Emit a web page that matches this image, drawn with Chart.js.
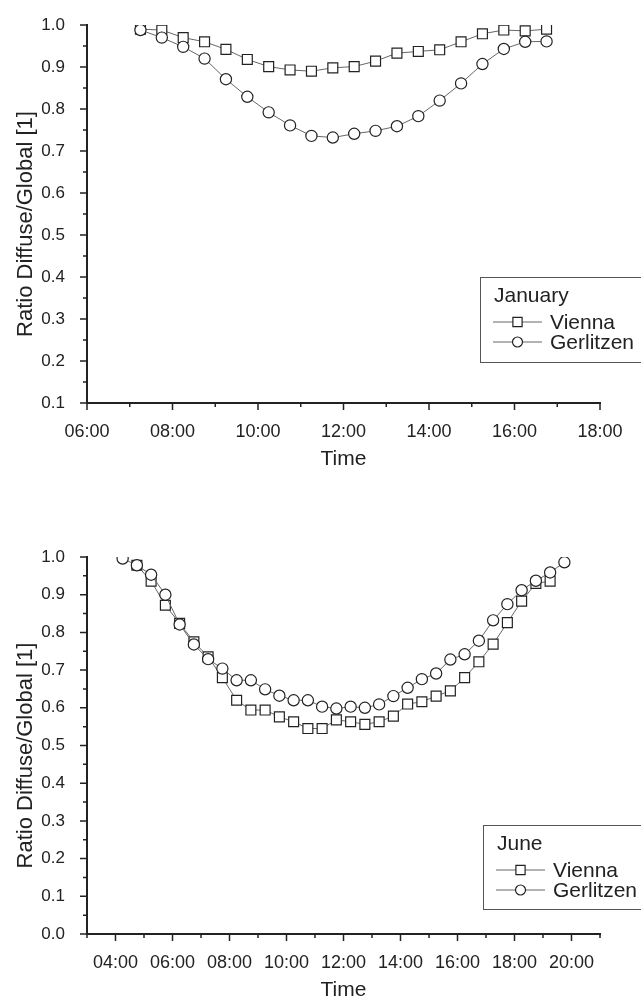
<!DOCTYPE html>
<html>
<head>
<meta charset="utf-8">
<script src="https://cdn.jsdelivr.net/npm/chart.js@4.4.1/dist/chart.umd.min.js"></script>
<style>
  html, body { margin: 0; padding: 0; background: #fff; }
  #page { position: relative; width: 641px; height: 998px; overflow: hidden; }
  .panel { position: absolute; left: 0; width: 641px; }
  #janPanel { top: 0; height: 490px; }
  #junePanel { top: 490px; height: 508px; }
</style>
</head>
<body>
<div id="page">
  <div class="panel" id="janPanel"><canvas id="janChart"></canvas></div>
  <div class="panel" id="junePanel"><canvas id="juneChart"></canvas></div>
</div>
<script>
// ── Data: half-hourly diffuse/global ratio ───────────────────────
const janTimes = ['07:15','07:45','08:15','08:45','09:15','09:45','10:15','10:45','11:15','11:45',
                  '12:15','12:45','13:15','13:45','14:15','14:45','15:15','15:45','16:15','16:45'];
const janVienna    = [0.990,0.988,0.970,0.960,0.942,0.918,0.901,0.893,0.890,0.898,
                      0.901,0.914,0.933,0.937,0.941,0.960,0.979,0.988,0.986,0.990];
const janGerlitzen = [0.988,0.970,0.948,0.920,0.871,0.829,0.792,0.761,0.736,0.732,
                      0.741,0.748,0.759,0.783,0.820,0.861,0.907,0.943,0.960,0.961];
const janHourTicks = [6, 8, 10, 12, 14, 16, 18];

const juneTimes = ['04:15','04:45','05:15','05:45','06:15','06:45','07:15','07:45','08:15','08:45',
                   '09:15','09:45','10:15','10:45','11:15','11:45','12:15','12:45','13:15','13:45',
                   '14:15','14:45','15:15','15:45','16:15','16:45','17:15','17:45','18:15','18:45',
                   '19:15','19:45'];
const juneVienna    = [null, 0.978,0.936,0.872,0.824,0.775,0.735,0.680,0.620,0.594,
                       0.594,0.576,0.563,0.545,0.545,0.568,0.563,0.556,0.563,0.578,
                       0.610,0.616,0.631,0.645,0.680,0.722,0.769,0.826,0.883,0.930,
                       0.936,null];
const juneGerlitzen = [0.996,0.978,0.953,0.900,0.821,0.768,0.729,0.704,0.673,0.673,
                       0.649,0.632,0.620,0.620,0.603,0.598,0.603,0.600,0.609,0.631,
                       0.653,0.676,0.691,0.728,0.742,0.778,0.832,0.875,0.912,0.937,
                       0.959,0.986];
const juneHourTicks = [4, 6, 8, 10, 12, 14, 16, 18, 20];

const FONT = "'Liberation Sans', Arial, sans-serif";
const INK = '#222';

function toHours(t) { const [h, m] = t.split(':').map(Number); return h + m / 60; }
function pairs(times, values) { return times.map((t, i) => ({ x: toHours(t), y: values[i] })); }
function hhmm(h) { return String(h).padStart(2, '0') + ':00'; }

function series(label, data, style, order) {
  return {
    label, data, order,
    borderColor: '#666',
    borderWidth: 1,
    pointStyle: style,
    pointRadius: style === 'rect' ? 7 : 5.6,
    pointBackgroundColor: '#fff',
    pointBorderColor: INK,
    pointBorderWidth: 1.2,
    tension: 0
  };
}

// minor/major tick marks + axis titles
const axisDecor = {
  id: 'axisDecor',
  afterDraw(chart, args, o) {
    const { ctx, chartArea: a, scales: { x, y } } = chart;
    ctx.save();
    ctx.strokeStyle = INK;
    ctx.lineWidth = 1.5;
    ctx.beginPath();
    for (let h = x.min; h <= x.max; h += 1) {
      const px = x.getPixelForValue(h);
      const len = o.hourTicks.includes(h) ? 7 : 4;
      ctx.moveTo(px, a.bottom);
      ctx.lineTo(px, a.bottom + len);
    }
    for (let k = Math.round(y.min * 20); k <= Math.round(y.max * 20); k++) {
      const py = y.getPixelForValue(k / 20);
      const len = k % 2 === 0 ? 7 : 4;
      ctx.moveTo(a.left, py);
      ctx.lineTo(a.left - len, py);
    }
    ctx.stroke();

    ctx.fillStyle = INK;
    ctx.textAlign = 'center';
    ctx.textBaseline = 'alphabetic';
    ctx.font = '21px ' + FONT;
    ctx.fillText('Time', (a.left + a.right) / 2, a.bottom + 62);
    ctx.font = '22px ' + FONT;
    ctx.translate(32, (a.top + a.bottom) / 2 + 10);
    ctx.rotate(-Math.PI / 2);
    ctx.fillText('Ratio Diffuse/Global [1]', 0, 0);
    ctx.restore();
  }
};

// boxed legend with title, line + marker samples
const boxLegend = {
  id: 'boxLegend',
  afterDraw(chart, args, o) {
    const ctx = chart.ctx;
    ctx.save();
    ctx.fillStyle = '#fff';
    ctx.fillRect(o.left, o.top, o.width, o.height);
    ctx.strokeStyle = '#555';
    ctx.lineWidth = 1;
    ctx.strokeRect(o.left + 0.5, o.top + 0.5, o.width, o.height);

    ctx.fillStyle = INK;
    ctx.font = '21px ' + FONT;
    ctx.textAlign = 'left';
    ctx.textBaseline = 'alphabetic';
    ctx.fillText(o.title, o.left + 14, o.top + 25);

    chart.data.datasets.forEach((ds, i) => {
      const cy = o.top + 45 + i * 20;
      const x0 = o.left + 13;
      ctx.strokeStyle = '#666';
      ctx.lineWidth = 1;
      ctx.beginPath();
      ctx.moveTo(x0, cy);
      ctx.lineTo(x0 + 49, cy);
      ctx.stroke();
      ctx.fillStyle = '#fff';
      ctx.strokeStyle = INK;
      ctx.lineWidth = 1.2;
      Chart.helpers.drawPoint(ctx, {
        pointStyle: ds.pointStyle,
        radius: ds.pointStyle === 'rect' ? 6.5 : 5,
        rotation: 0,
        borderWidth: 1.2
      }, x0 + 24.5, cy);
      ctx.fillStyle = INK;
      ctx.textBaseline = 'middle';
      ctx.fillText(ds.label, x0 + 57, cy + 1);
      ctx.textBaseline = 'alphabetic';
    });
    ctx.restore();
  }
};

function makeChart(id, cfg) {
  return new Chart(document.getElementById(id), {
    type: 'line',
    data: {
      datasets: [
        series('Vienna', pairs(cfg.times, cfg.vienna), 'rect', 2),
        series('Gerlitzen', pairs(cfg.times, cfg.gerlitzen), 'circle', 1)
      ]
    },
    options: {
      responsive: true,
      maintainAspectRatio: false,
      animation: false,
      events: [],
      layout: { padding: { top: cfg.padTop, right: 41, left: 0, bottom: 0 } },
      plugins: {
        legend: { display: false },
        tooltip: { enabled: false },
        axisDecor: { hourTicks: cfg.hourTicks },
        boxLegend: cfg.legend
      },
      scales: {
        x: {
          type: 'linear',
          min: cfg.xMin,
          max: cfg.xMax,
          grid: { display: false },
          border: { display: true, color: INK, width: 2 },
          ticks: {
            color: INK,
            font: { family: FONT, size: 18 },
            padding: 10,
            maxRotation: 0,
            autoSkip: false,
            callback: v => hhmm(v)
          },
          afterBuildTicks: s => { s.ticks = cfg.hourTicks.map(v => ({ value: v })); },
          afterFit: s => { s.height = cfg.xHeight; }
        },
        y: {
          min: cfg.yMin,
          max: 1.0,
          grid: { display: false },
          border: { display: true, color: INK, width: 2 },
          ticks: {
            color: INK,
            font: { family: FONT, size: 17 },
            padding: 14,
            stepSize: 0.1,
            callback: v => v.toFixed(1)
          },
          afterFit: s => { s.width = 87; }
        }
      }
    },
    plugins: [axisDecor, boxLegend]
  });
}

makeChart('janChart', {
  times: janTimes, vienna: janVienna, gerlitzen: janGerlitzen,
  hourTicks: janHourTicks, xMin: 6, xMax: 18, yMin: 0.1,
  padTop: 25, xHeight: 87,
  legend: { title: 'January', left: 480, top: 277, width: 170, height: 85 }
});

makeChart('juneChart', {
  times: juneTimes, vienna: juneVienna, gerlitzen: juneGerlitzen,
  hourTicks: juneHourTicks, xMin: 3, xMax: 21, yMin: 0.0,
  padTop: 67, xHeight: 64,
  legend: { title: 'June', left: 483, top: 335, width: 170, height: 84 }
});
</script>
</body>
</html>
